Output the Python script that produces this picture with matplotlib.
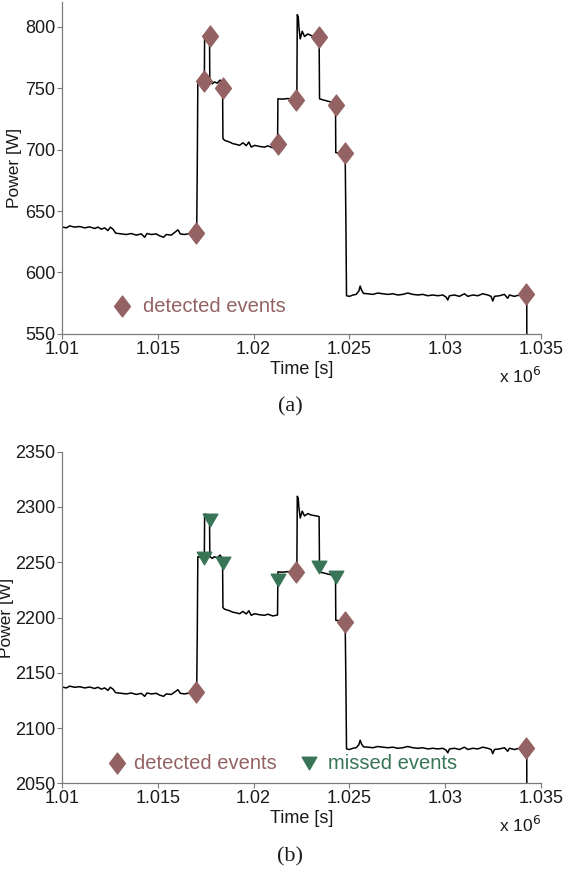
import matplotlib
matplotlib.use("Agg")
import matplotlib.pyplot as plt
from matplotlib.path import Path
import numpy as np

plt.rcParams['font.family'] = ['Liberation Sans', 'DejaVu Sans']

# ---- data (time in seconds, power in W for panel (a)) ----
time_s = [
    1010000, 1010228, 1010402, 1010662, 1010923, 1011184, 1011445, 1011706, 1011880, 1012053,
    1012227, 1012401, 1012523, 1012662, 1012801, 1013096, 1013357, 1013618, 1013879, 1014140,
    1014314, 1014435, 1014661, 1014922, 1015096, 1015305, 1015444, 1015705, 1015879, 1016052,
    1016174, 1016400, 1016661, 1016835, 1016974, 1017030, 1017060, 1017090, 1017200, 1017350,
    1017430, 1017445, 1017600, 1017700, 1017715, 1017850, 1017950, 1018100, 1018250, 1018380,
    1018400, 1018487, 1018747, 1018920, 1019097, 1019269, 1019441, 1019618, 1019754, 1019879,
    1020051, 1020312, 1020573, 1020745, 1021006, 1021183, 1021250, 1021270, 1021500, 1021800,
    1022000, 1022200, 1022258, 1022280, 1022330, 1022362, 1022435, 1022539, 1022659, 1022831,
    1023009, 1023269, 1023420, 1023442, 1023600, 1023791, 1024052, 1024224, 1024276, 1024290,
    1024500, 1024780, 1024820, 1024850, 1025007, 1025181, 1025354, 1025494, 1025563, 1025633,
    1025737, 1025963, 1026224, 1026485, 1026745, 1027006, 1027267, 1027528, 1027789, 1028050,
    1028310, 1028571, 1028832, 1029093, 1029353, 1029614, 1029875, 1030049, 1030136, 1030223,
    1030483, 1030744, 1031005, 1031179, 1031440, 1031701, 1031961, 1032222, 1032396, 1032483,
    1032570, 1032831, 1033091, 1033265, 1033352, 1033613, 1033874, 1034135, 1034256, 1034262,
]
power_a = [
    637.1, 636.3, 637.9, 636.9, 637.4, 636.3, 637.1, 635.8, 636.9, 635.2,
    636.3, 634.1, 636.9, 635.2, 632.0, 631.4, 630.9, 631.7, 630.4, 631.4,
    628.7, 631.7, 630.9, 631.4, 629.8, 628.7, 630.9, 630.4, 632.5, 634.7,
    631.4, 630.9, 631.7, 630.9, 631.4, 632.5, 683.0, 755.0, 754.5, 755.5,
    756.0, 793.5, 793.0, 792.5, 755.0, 753.5, 755.0, 754.0, 756.5, 753.0,
    709.0, 707.5, 706.1, 704.8, 704.2, 703.4, 705.5, 703.2, 706.1, 702.0,
    703.4, 702.5, 702.0, 703.0, 701.4, 702.0, 702.3, 741.3, 741.0, 741.5,
    740.7, 741.2, 742.0, 809.7, 808.0, 800.0, 790.0, 796.2, 791.9, 794.0,
    792.7, 791.9, 791.3, 741.3, 740.5, 739.7, 738.6, 737.3, 736.5, 697.5,
    697.0, 696.7, 637.0, 581.1, 580.6, 581.7, 582.2, 584.9, 589.0, 585.7,
    583.0, 582.7, 582.2, 583.3, 582.7, 582.2, 582.7, 581.7, 582.2, 583.3,
    582.2, 581.7, 582.2, 581.1, 581.7, 581.1, 581.7, 580.0, 577.6, 581.1,
    581.7, 580.6, 582.7, 580.6, 581.7, 581.1, 582.7, 581.7, 580.6, 576.8,
    580.6, 581.1, 582.2, 579.0, 581.7, 580.6, 581.7, 582.2, 582.2, 540.0,
]
# panel (b) is the same trace on a baseline 1500 W higher
offset_b = 1500

# detected events, panel (a)
det_a_t = [1017010, 1017400, 1017700, 1018400, 1021267, 1022226, 1023420, 1024276, 1024790, 1034222]
det_a_p = [632.5, 756.0, 792.0, 750.0, 704.2, 740.5, 791.3, 736.0, 697.0, 582.2]
# panel (b): detected and missed events
det_b_t = [1017010, 1022226, 1024790, 1034222]
det_b_p = [2132.8, 2241.3, 2195.5, 2082.0]
mis_b_t = [1017400, 1017700, 1018420, 1021267, 1023420, 1024300]
mis_b_p = [2253.4, 2288.0, 2249.0, 2233.8, 2245.3, 2236.3]

xticks = [1.01e6, 1.015e6, 1.02e6, 1.025e6, 1.03e6, 1.035e6]
xtick_labels = ['1.01', '1.015', '1.02', '1.025', '1.03', '1.035']
yticks_a = [550, 600, 650, 700, 750, 800]
yticks_b = [2050, 2100, 2150, 2200, 2250, 2300, 2350]

# ---- styles ----
c_det = '#946262'
c_mis = '#387456'
c_axis = '#7a7a7a'
diamond = Path([(0, 1), (0.76, 0), (0, -1), (-0.76, 0), (0, 1)],
               [Path.MOVETO, Path.LINETO, Path.LINETO, Path.LINETO, Path.CLOSEPOLY])
tri_down = Path([(-0.5, 0.43), (0.5, 0.43), (0, -0.43), (-0.5, 0.43)],
                [Path.MOVETO, Path.LINETO, Path.LINETO, Path.CLOSEPOLY])

fig = plt.figure(figsize=(5.63, 8.72), dpi=100)
ax_a = fig.add_axes([0.1101, 0.6170, 0.8508, 0.3807])
ax_b = fig.add_axes([0.1101, 0.1017, 0.8508, 0.3803])

t = np.array(time_s)
pa = np.array(power_a)

def style(ax, yticks, ylim):
    ax.set_xlim(1.01e6, 1.035e6)
    ax.set_ylim(*ylim)
    for s in ['top', 'right']:
        ax.spines[s].set_visible(False)
    for s in ['left', 'bottom']:
        ax.spines[s].set_color(c_axis)
        ax.spines[s].set_linewidth(0.9)
    ax.set_xticks(xticks)
    ax.set_xticklabels(xtick_labels)
    ax.set_yticks(yticks)
    ax.tick_params(direction='out', length=3.5, width=0.8, color=c_axis,
                   labelsize=13, labelcolor='#1a1a1a', pad=1.5)
    ax.set_xlabel('Time [s]', fontsize=13, color='#1a1a1a', labelpad=2)
    ax.set_ylabel('Power [W]', fontsize=12.5, color='#1a1a1a')
    ax.text(1.0, -0.095, r'x 10$^6$', transform=ax.transAxes, ha='right', va='top',
            fontsize=12.5, color='#1a1a1a')

# panel (a)
ax_a.plot(t, pa, color='black', lw=1.1, zorder=2)
ax_a.plot(det_a_t, det_a_p, ls='none', marker=diamond, ms=15, color=c_det,
          mec=c_det, zorder=3, clip_on=False)
style(ax_a, yticks_a, (550, 820))
ax_a.yaxis.set_label_coords(-0.083, 0.5)
ax_a.plot([1.01311e6], [572.5], ls='none', marker=diamond, ms=15, color=c_det, mec=c_det)
ax_a.text(1.01421e6, 572.5, 'detected events', color=c_det, fontsize=14.5, va='center', ha='left')

# panel (b)
ax_b.plot(t, pa + offset_b, color='black', lw=1.1, zorder=2)
ax_b.plot(det_b_t, det_b_p, ls='none', marker=diamond, ms=15, color=c_det,
          mec=c_det, zorder=3, clip_on=False)
ax_b.plot(mis_b_t, mis_b_p, ls='none', marker=tri_down, ms=10.5, color=c_mis,
          mec=c_mis, zorder=3)
style(ax_b, yticks_b, (2050, 2350))
ax_b.yaxis.set_label_coords(-0.1, 0.5)
ax_b.plot([1.01288e6], [2068], ls='none', marker=diamond, ms=15, color=c_det, mec=c_det)
ax_b.text(1.01374e6, 2068, 'detected events', color=c_det, fontsize=14.5, va='center', ha='left')
ax_b.plot([1.0229e6], [2068], ls='none', marker=tri_down, ms=10.5, color=c_mis, mec=c_mis)
ax_b.text(1.02389e6, 2068, 'missed events', color=c_mis, fontsize=14.5, va='center', ha='left')

fig.text(290 / 563, 1 - 407 / 872, '(a)', family='Liberation Serif', fontsize=16,
         ha='center', va='center', color='#1a1a1a')
fig.text(290 / 563, 1 - 857 / 872, '(b)', family='Liberation Serif', fontsize=16,
         ha='center', va='center', color='#1a1a1a')

fig.savefig('out.png', dpi=100)
